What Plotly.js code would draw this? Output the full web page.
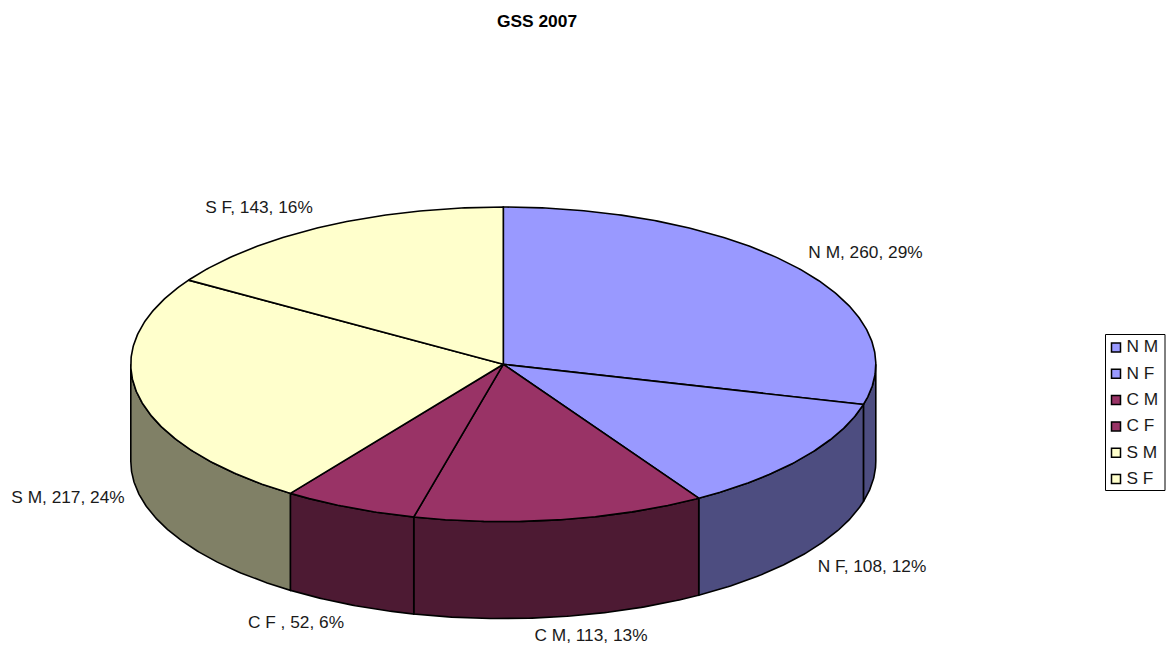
<!DOCTYPE html>
<html>
<head>
<meta charset="utf-8">
<script src="https://cdn.plot.ly/plotly-3.0.1.min.js"></script>
<style>html,body{margin:0;padding:0;background:#fff}#chart{width:1166px;height:646px}</style>
</head>
<body>
<div id="chart"></div>
<script>
// Data
const categories = ["N M", "N F", "C M", "C F ", "S M", "S F"];
const values = [260, 108, 113, 52, 217, 143];

// Styles
const topColors = ["#9999FF", "#9999FF", "#993366", "#993366", "#FFFFCC", "#FFFFCC"];
const sideColors = ["#4D4D80", "#4D4D80", "#4D1A33", "#4D1A33", "#808066", "#808066"];

// Layout (pixel space of the page)
const pie = {cx: 503.3, cy: 364.3, rx: 372.5, ry: 157.3, depth: 97};
const labelX = [865.5, 872, 591, 296, 68, 259];
const labelY = [254, 568, 637, 624, 499, 209];
const legendBox = {x0: 1105.5, x1: 1165, y0: 334.5, y1: 490.5, firstY: 347.5, step: 26.3, swatchX: 1116, textX: 1126.5};

const total = values.reduce((a, b) => a + b, 0);
const pt = (deg, dy) => {
  const t = deg * Math.PI / 180;
  return [pie.cx + pie.rx * Math.sin(t), pie.cy - pie.ry * Math.cos(t) + (dy || 0)];
};
const arc = (a, b, dy) => {
  const out = [];
  const n = Math.max(2, Math.ceil(Math.abs(b - a) / 0.5));
  for (let i = 0; i <= n; i++) out.push(pt(a + (b - a) * i / n, dy));
  return out;
};
const poly = (pts, fill, width) => ({
  type: "scatter", mode: "lines", x: pts.map(p => p[0]), y: pts.map(p => p[1]),
  fill: "toself", fillcolor: fill, line: {color: "#000", width: width || 1.6},
  hoverinfo: "skip", showlegend: false
});

const traces = [];
const sides = [], tops = [];
let acc = 0;
values.forEach((v, i) => {
  const a = acc / total * 360, b = (acc + v) / total * 360;
  acc += v;
  const lo = Math.max(a, 90), hi = Math.min(b, 270);
  if (hi > lo) {
    const front = arc(lo, hi, 0), back = arc(hi, lo, pie.depth);
    sides.push(poly(front.concat(back, [front[0]]), sideColors[i]));
  }
  const rim = arc(a, b, 0);
  tops.push(poly([[pie.cx, pie.cy]].concat(rim, [[pie.cx, pie.cy]]), topColors[i]));
});
traces.push(...sides, ...tops);

// Data labels
traces.push({
  type: "scatter", mode: "text", x: labelX, y: labelY,
  text: categories.map((c, i) => `${c.replace(/ $/, "\u00A0")}, ${values[i]}, ${Math.round(values[i] / total * 100)}%`),
  textposition: "middle center",
  textfont: {family: "Liberation Sans, Arial, sans-serif", size: 17.3, color: "#1a1a1a"},
  hoverinfo: "skip", showlegend: false
});

// Legend
traces.push({
  type: "scatter", mode: "markers",
  x: categories.map(() => legendBox.swatchX),
  y: categories.map((c, i) => legendBox.firstY + i * legendBox.step),
  marker: {symbol: "square", size: 9, color: topColors, line: {color: "#000", width: 1.5}},
  hoverinfo: "skip", showlegend: false
});
traces.push({
  type: "scatter", mode: "text",
  x: categories.map(() => legendBox.textX),
  y: categories.map((c, i) => legendBox.firstY + i * legendBox.step + 0.5),
  text: categories.map(c => c.trim()),
  textposition: "middle right",
  textfont: {family: "Liberation Sans, Arial, sans-serif", size: 17.3, color: "#1a1a1a"},
  hoverinfo: "skip", showlegend: false
});

const hidden = {visible: false, fixedrange: true, autorange: false};
Plotly.newPlot("chart", traces, {
  width: 1166, height: 646,
  margin: {l: 0, r: 0, t: 0, b: 0},
  paper_bgcolor: "#fff", plot_bgcolor: "#fff",
  showlegend: false,
  title: {
    text: "<b>GSS 2007</b>",
    x: 537 / 1166, xanchor: "center", y: 1 - 21 / 646, yanchor: "middle",
    font: {family: "Liberation Sans, Arial, sans-serif", size: 17.4, color: "#000"}
  },
  xaxis: Object.assign({range: [0, 1166]}, hidden),
  yaxis: Object.assign({range: [646, 0]}, hidden),
  shapes: [{
    type: "rect", xref: "x", yref: "y", layer: "below",
    x0: legendBox.x0, x1: legendBox.x1, y0: legendBox.y0, y1: legendBox.y1,
    line: {color: "#000", width: 1}, fillcolor: "#fff"
  }]
}, {displayModeBar: false, staticPlot: true});
</script>
</body>
</html>
